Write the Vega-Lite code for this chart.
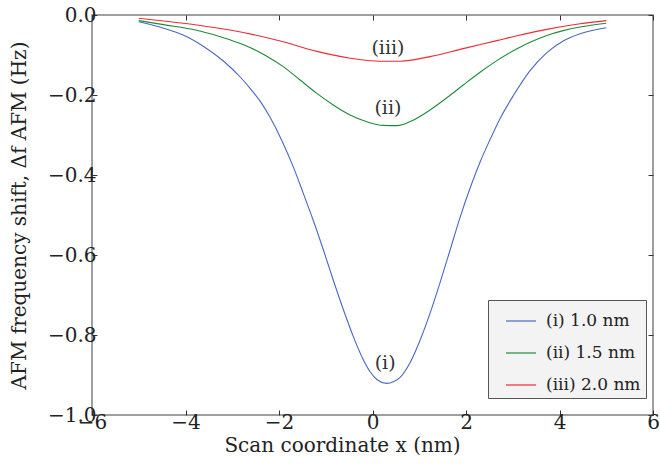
{
  "$schema": "https://vega.github.io/schema/vega-lite/v6.json",
  "width": 561,
  "height": 400,
  "autosize": {"type": "none"},
  "padding": {"left": 92, "top": 15, "right": 7, "bottom": 50},
  "background": "white",
  "config": {
    "font": "DejaVu Serif",
    "view": {"stroke": "#808080", "strokeWidth": 1.5},
    "axis": {"labelFont": "DejaVu Serif", "titleFont": "DejaVu Serif", "titleFontWeight": "normal"}
  },
  "datasets": {
    "curves": [
      {"x": -5.0, "y": -0.017, "s": "(i) 1.0 nm"},
      {"x": -4.47, "y": -0.033, "s": "(i) 1.0 nm"},
      {"x": -4.05, "y": -0.050, "s": "(i) 1.0 nm"},
      {"x": -3.62, "y": -0.078, "s": "(i) 1.0 nm"},
      {"x": -3.19, "y": -0.115, "s": "(i) 1.0 nm"},
      {"x": -2.83, "y": -0.155, "s": "(i) 1.0 nm"},
      {"x": -2.6, "y": -0.186, "s": "(i) 1.0 nm"},
      {"x": -2.4, "y": -0.216, "s": "(i) 1.0 nm"},
      {"x": -2.2, "y": -0.254, "s": "(i) 1.0 nm"},
      {"x": -1.93, "y": -0.316, "s": "(i) 1.0 nm"},
      {"x": -1.69, "y": -0.381, "s": "(i) 1.0 nm"},
      {"x": -1.48, "y": -0.446, "s": "(i) 1.0 nm"},
      {"x": -1.27, "y": -0.5125, "s": "(i) 1.0 nm"},
      {"x": -1.05, "y": -0.5875, "s": "(i) 1.0 nm"},
      {"x": -0.84, "y": -0.6625, "s": "(i) 1.0 nm"},
      {"x": -0.62, "y": -0.7375, "s": "(i) 1.0 nm"},
      {"x": -0.41, "y": -0.804, "s": "(i) 1.0 nm"},
      {"x": -0.20, "y": -0.861, "s": "(i) 1.0 nm"},
      {"x": -0.05, "y": -0.892, "s": "(i) 1.0 nm"},
      {"x": 0.10, "y": -0.912, "s": "(i) 1.0 nm"},
      {"x": 0.30, "y": -0.921, "s": "(i) 1.0 nm"},
      {"x": 0.45, "y": -0.917, "s": "(i) 1.0 nm"},
      {"x": 0.59, "y": -0.906, "s": "(i) 1.0 nm"},
      {"x": 0.80, "y": -0.870, "s": "(i) 1.0 nm"},
      {"x": 1.02, "y": -0.8125, "s": "(i) 1.0 nm"},
      {"x": 1.23, "y": -0.746, "s": "(i) 1.0 nm"},
      {"x": 1.44, "y": -0.671, "s": "(i) 1.0 nm"},
      {"x": 1.66, "y": -0.5875, "s": "(i) 1.0 nm"},
      {"x": 1.87, "y": -0.507, "s": "(i) 1.0 nm"},
      {"x": 2.09, "y": -0.432, "s": "(i) 1.0 nm"},
      {"x": 2.30, "y": -0.368, "s": "(i) 1.0 nm"},
      {"x": 2.51, "y": -0.3125, "s": "(i) 1.0 nm"},
      {"x": 2.73, "y": -0.2585, "s": "(i) 1.0 nm"},
      {"x": 3.01, "y": -0.202, "s": "(i) 1.0 nm"},
      {"x": 3.37, "y": -0.139, "s": "(i) 1.0 nm"},
      {"x": 3.73, "y": -0.094, "s": "(i) 1.0 nm"},
      {"x": 4.08, "y": -0.065, "s": "(i) 1.0 nm"},
      {"x": 4.44, "y": -0.047, "s": "(i) 1.0 nm"},
      {"x": 5.0, "y": -0.032, "s": "(i) 1.0 nm"},
      {"x": -5.0, "y": -0.014, "s": "(ii) 1.5 nm"},
      {"x": -4.47, "y": -0.024, "s": "(ii) 1.5 nm"},
      {"x": -3.76, "y": -0.038, "s": "(ii) 1.5 nm"},
      {"x": -3.05, "y": -0.062, "s": "(ii) 1.5 nm"},
      {"x": -2.62, "y": -0.081, "s": "(ii) 1.5 nm"},
      {"x": -2.26, "y": -0.103, "s": "(ii) 1.5 nm"},
      {"x": -1.91, "y": -0.129, "s": "(ii) 1.5 nm"},
      {"x": -1.55, "y": -0.1625, "s": "(ii) 1.5 nm"},
      {"x": -1.19, "y": -0.196, "s": "(ii) 1.5 nm"},
      {"x": -0.84, "y": -0.225, "s": "(ii) 1.5 nm"},
      {"x": -0.48, "y": -0.250, "s": "(ii) 1.5 nm"},
      {"x": -0.12, "y": -0.267, "s": "(ii) 1.5 nm"},
      {"x": 0.23, "y": -0.276, "s": "(ii) 1.5 nm"},
      {"x": 0.52, "y": -0.2765, "s": "(ii) 1.5 nm"},
      {"x": 0.87, "y": -0.263, "s": "(ii) 1.5 nm"},
      {"x": 1.23, "y": -0.2375, "s": "(ii) 1.5 nm"},
      {"x": 1.59, "y": -0.207, "s": "(ii) 1.5 nm"},
      {"x": 1.94, "y": -0.175, "s": "(ii) 1.5 nm"},
      {"x": 2.30, "y": -0.143, "s": "(ii) 1.5 nm"},
      {"x": 2.66, "y": -0.114, "s": "(ii) 1.5 nm"},
      {"x": 3.05, "y": -0.087, "s": "(ii) 1.5 nm"},
      {"x": 3.37, "y": -0.068, "s": "(ii) 1.5 nm"},
      {"x": 3.73, "y": -0.051, "s": "(ii) 1.5 nm"},
      {"x": 4.08, "y": -0.039, "s": "(ii) 1.5 nm"},
      {"x": 4.44, "y": -0.030, "s": "(ii) 1.5 nm"},
      {"x": 5.0, "y": -0.0205, "s": "(ii) 1.5 nm"},
      {"x": -5.0, "y": -0.008, "s": "(iii) 2.0 nm"},
      {"x": -4.47, "y": -0.015, "s": "(iii) 2.0 nm"},
      {"x": -3.76, "y": -0.025, "s": "(iii) 2.0 nm"},
      {"x": -3.05, "y": -0.0375, "s": "(iii) 2.0 nm"},
      {"x": -2.55, "y": -0.049, "s": "(iii) 2.0 nm"},
      {"x": -1.91, "y": -0.067, "s": "(iii) 2.0 nm"},
      {"x": -1.19, "y": -0.091, "s": "(iii) 2.0 nm"},
      {"x": -0.48, "y": -0.108, "s": "(iii) 2.0 nm"},
      {"x": 0.16, "y": -0.1155, "s": "(iii) 2.0 nm"},
      {"x": 0.59, "y": -0.1155, "s": "(iii) 2.0 nm"},
      {"x": 1.23, "y": -0.104, "s": "(iii) 2.0 nm"},
      {"x": 1.94, "y": -0.084, "s": "(iii) 2.0 nm"},
      {"x": 2.66, "y": -0.064, "s": "(iii) 2.0 nm"},
      {"x": 3.09, "y": -0.052, "s": "(iii) 2.0 nm"},
      {"x": 3.73, "y": -0.036, "s": "(iii) 2.0 nm"},
      {"x": 4.44, "y": -0.022, "s": "(iii) 2.0 nm"},
      {"x": 5.0, "y": -0.014, "s": "(iii) 2.0 nm"}
    ],
    "labels": [
      {"x": 0.27, "y": -0.87, "t": "(i)"},
      {"x": 0.33, "y": -0.232, "t": "(ii)"},
      {"x": 0.33, "y": -0.082, "t": "(iii)"}
    ]
  },
  "resolve": {"axis": {"x": "independent", "y": "independent"}},
  "layer": [
    {
      "data": {"name": "curves"},
      "mark": {"type": "line", "strokeWidth": 1.1, "interpolate": "monotone", "clip": true},
      "encoding": {
        "x": {"field": "x", "type": "quantitative",
          "scale": {"domain": [-6, 6], "nice": false, "zero": false},
          "axis": {"values": [-6, -4, -2, 0, 2, 4, 6], "format": "d", "title": "Scan coordinate x (nm)",
            "labelFontSize": 20, "titleFontSize": 20, "labelColor": "#222", "titleColor": "#222",
            "tickSize": -5, "tickColor": "#333", "domain": false, "grid": false,
            "labelPadding": 2, "titlePadding": 3, "titleX": 250, "titleAlign": "center", "labelFlush": false}},
        "y": {"field": "y", "type": "quantitative",
          "scale": {"domain": [-1, 0], "nice": false, "zero": false},
          "axis": {"values": [-1, -0.8, -0.6, -0.4, -0.2, 0], "format": ".1f", "title": "AFM frequency shift, Δf AFM (Hz)",
            "labelFontSize": 20, "titleFontSize": 20, "labelColor": "#222", "titleColor": "#222",
            "tickSize": -5, "tickColor": "#333", "domain": false, "grid": false,
            "labelPadding": 1, "titlePadding": 18, "labelFlush": false}},
        "color": {"field": "s", "type": "nominal",
          "scale": {"domain": ["(i) 1.0 nm", "(ii) 1.5 nm", "(iii) 2.0 nm"], "range": ["#4a68c0", "#1f8a3c", "#ee2b33"]},
          "legend": {"title": null, "orient": "none", "legendX": 396, "legendY": 285,
            "direction": "vertical", "fillColor": "#f2f3f2", "strokeColor": "#555",
            "padding": 5, "symbolType": "stroke", "symbolSize": 900, "symbolStrokeWidth": 1.2,
            "labelFont": "DejaVu Serif", "labelFontSize": 17, "labelColor": "#222",
            "labelExpr": "datum.label + '\u00a0\u00a0\u00a0'",
            "rowPadding": 8, "labelLimit": 220, "symbolOffset": 12, "labelOffset": 9}}
      }
    },
    {
      "data": {"name": "curves"},
      "mark": {"type": "point", "opacity": 0},
      "encoding": {
        "x": {"field": "x", "type": "quantitative",
          "axis": {"orient": "top", "values": [-6, -4, -2, 0, 2, 4, 6], "labels": false, "title": null,
            "tickSize": -5, "tickColor": "#333", "domain": false, "grid": false}},
        "y": {"field": "y", "type": "quantitative",
          "axis": {"orient": "right", "values": [-1, -0.8, -0.6, -0.4, -0.2, 0], "labels": false, "title": null,
            "tickSize": -5, "tickColor": "#333", "domain": false, "grid": false}}
      }
    },
    {
      "data": {"name": "labels"},
      "mark": {"type": "text", "font": "DejaVu Serif", "fontSize": 19, "color": "#333", "baseline": "middle", "align": "center"},
      "encoding": {
        "x": {"field": "x", "type": "quantitative", "axis": null},
        "y": {"field": "y", "type": "quantitative", "axis": null},
        "text": {"field": "t"}
      }
    }
  ]
}
